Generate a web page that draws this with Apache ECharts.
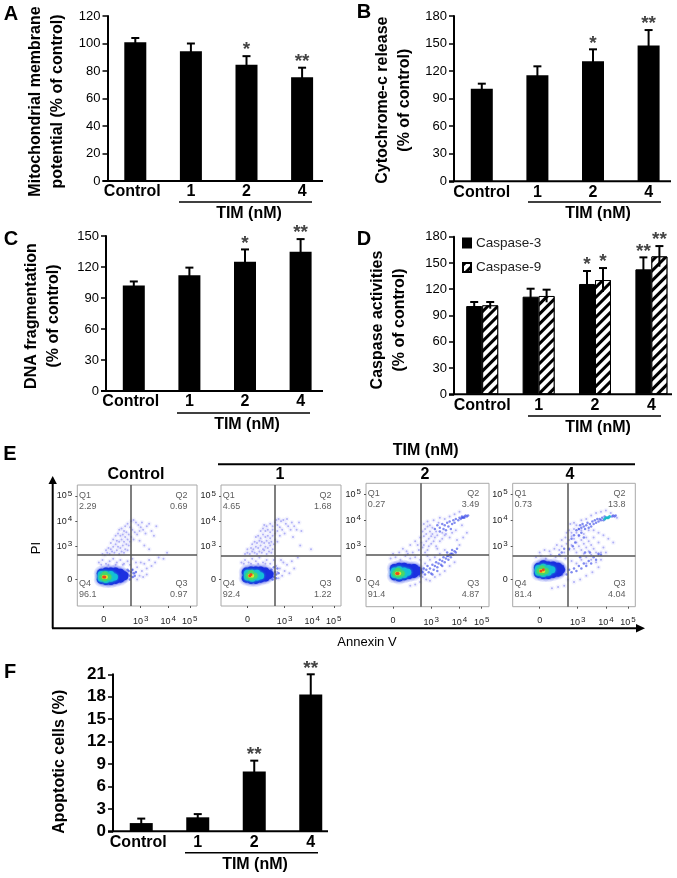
<!DOCTYPE html>
<html>
<head>
<meta charset="utf-8">
<title>TIM apoptosis panels</title>
<script src="https://cdn.jsdelivr.net/npm/echarts@6/dist/echarts.min.js"></script>
<style>
html,body{margin:0;padding:0;background:#fff;}
#main{width:677px;height:878px;}
</style>
</head>
<body>
<div id="main"></div>
<script>
var doseLabels = ['Control', '1', '2', '4'];

// bar panels: mean, error, significance
var aMeans = [101, 94.4, 84.5, 75.4];
var aErrs = [3, 5.6, 6.3, 7];
var aStars = ['', '', '*', '**'];
var bMeans = [100.9, 115.4, 130.6, 148];
var bErrs = [5.4, 9.8, 13.1, 16.7];
var bStars = ['', '', '*', '**'];
var cMeans = [102, 112, 125.2, 134.8];
var cErrs = [4, 7.4, 11.8, 12.2];
var cStars = ['', '', '*', '**'];
var d3Means = [100.8, 111.5, 126, 142.7];
var d3Errs = [4.6, 9.1, 14.8, 13.7];
var d3Stars = ['', '', '*', '**'];
var d9Means = [101.6, 112.3, 130.5, 157.5];
var d9Errs = [3.8, 7.2, 13.7, 11.8];
var d9Stars = ['', '', '*', '**'];
var fMeans = [1.1, 1.87, 8, 18.3];
var fErrs = [0.6, 0.43, 1.45, 2.7];
var fStars = ['', '', '**', '**'];

// flow cytometry panels
var flowTitles = ['Control', '1', '2', '4'];
var quadrantPct = [
    ['2.29', '0.69', '0.97', '96.1'],
    ['4.65', '1.68', '1.22', '92.4'],
    ['0.27', '3.49', '4.87', '91.4'],
    ['0.73', '13.8', '4.04', '81.4']
];
var gateX = [44.9, 45, 44.7, 44.5];
var gateY = [42, 41.5, 42, 41.5];
var flowXTicks = [22, 53, 76, 94];
var flowYTicks = [22, 49, 70, 91];
var flowTickText = ['0', '10{sup|3}', '10{sup|4}', '10{sup|5}'];

var flowSparse0 = [[21,43],[23,42],[25,44],[27,43],[29,45],[24,46],[26,48],[28,47],[31,44],[33,46],[35,43],[37,45],[39,44],[30,49],[32,51],[34,49],[36,48],[38,50],[40,47],[42,46],[28,52],[30,55],[33,54],[35,53],[37,55],[39,53],[41,51],[43,50],[32,58],[34,60],[36,58],[38,59],[40,57],[42,55],[44,53],[35,63],[37,64],[39,62],[41,61],[43,59],[45,57],[47,55],[40,66],[42,68],[44,65],[46,63],[48,61],[50,59],[52,62],[45,70],[47,71],[49,69],[51,67],[53,65],[55,63],[57,60],[54,69],[58,66],[60,68],[62,62],[64,58],[66,66],[52,54],[56,50],[60,47],[18,36],[21,38],[24,35],[27,37],[30,39],[33,36],[36,38],[39,35],[42,37],[46,39],[20,34],[26,34],[32,34],[38,34],[44,34],[46,30],[48,27],[50,32],[52,25],[54,29],[56,35],[58,31],[60,38],[62,33],[65,36],[68,40],[72,39],[50,22],[47,24],[53,36],[49,36],[55,24],[58,26],[75,44]];
var flowSparse1 = [[20,43],[22,44],[24,43],[26,45],[28,44],[30,43],[32,45],[34,44],[36,46],[38,43],[40,45],[42,44],[22,47],[25,48],[27,47],[29,49],[31,48],[33,50],[35,47],[37,49],[39,48],[41,50],[43,47],[26,51],[28,53],[30,52],[32,54],[34,53],[36,52],[38,54],[40,52],[42,53],[44,51],[29,57],[31,58],[33,56],[35,59],[37,57],[39,58],[41,56],[43,58],[45,55],[47,53],[33,62],[35,64],[37,62],[39,63],[41,61],[43,63],[45,60],[47,62],[49,58],[36,67],[38,66],[41,68],[43,66],[45,69],[47,67],[49,65],[51,63],[53,60],[46,71],[48,72],[50,70],[52,71],[54,68],[56,66],[58,63],[55,72],[59,69],[61,66],[63,63],[65,69],[67,62],[60,57],[66,50],[75,47],[17,36],[20,38],[23,36],[26,39],[29,37],[32,40],[35,36],[38,38],[41,35],[44,38],[19,35],[25,35],[31,35],[37,35],[46,33],[47,28],[49,31],[51,25],[53,29],[55,34],[57,27],[59,37],[61,31],[48,23],[52,36],[50,38],[64,40]];
var flowSparse2 = [[20,39],[24,40],[28,38],[32,41],[36,39],[40,40],[44,38],[22,43],[27,44],[33,45],[38,44],[43,46],[46,48],[48,44],[50,46],[42,50],[45,52],[47,50],[49,53],[51,49],[53,51],[44,56],[47,57],[49,59],[51,55],[53,57],[55,53],[57,49],[46,61],[48,63],[50,65],[52,61],[54,59],[56,56],[58,58],[60,53],[62,55],[64,58],[50,69],[52,66],[54,64],[57,61],[59,68],[62,60],[65,59],[68,56],[70,60],[47,67],[30,47],[36,50],[40,53],[34,43],[60,72],[64,71],[68,73],[72,75],[76,77],[55,70],[73,62],[78,66],[74,54],[79,56],[82,60],[76,50],[46,24],[49,22],[52,21],[56,24],[60,26],[64,29],[68,33],[72,36],[48,35],[52,38],[56,40],[60,43],[64,46],[50,41],[58,47],[44,20],[40,18],[36,17]];
var flowSparse3 = [[19,40],[23,41],[27,39],[31,42],[35,40],[39,41],[43,39],[22,44],[26,46],[30,45],[34,47],[38,46],[42,44],[46,46],[36,50],[40,49],[44,51],[48,50],[50,47],[52,44],[40,54],[43,56],[46,54],[48,57],[50,55],[52,52],[54,49],[56,46],[58,43],[60,40],[44,60],[46,62],[48,60],[50,63],[52,60],[54,57],[56,54],[58,51],[60,48],[62,45],[64,42],[47,67],[50,68],[52,66],[54,63],[56,62],[58,59],[60,56],[62,53],[64,50],[66,47],[68,44],[70,42],[56,70],[60,71],[64,74],[68,76],[72,77],[76,78],[80,76],[85,72],[66,62],[70,60],[74,58],[78,55],[82,52],[70,52],[74,48],[62,62],[66,56],[72,44],[76,44],[45,22],[50,20],[55,22],[60,25],[65,28],[70,32],[42,17],[37,16],[32,15],[48,37],[52,35],[56,38],[60,35],[64,38],[68,36],[72,38]];

var flowMid0 = [[42,26],[44,25],[45,28],[46,24],[47,27],[48,25],[43,29],[46,30],[44,22],[49,28],[41,23],[42,30]];
var flowMid1 = [[43,27],[44,24],[45,28],[46,26],[47,31],[44,32],[48,27],[46,23],[42,30],[43,22]];
var flowMid2 = [[56,63],[58,66],[60,64],[62,67],[63,63],[64,66],[66,68],[67,65],[68,69],[70,67],[71,70],[72,68],[73,71],[75,70],[76,72],[77,71],[78,73],[79,72],[80,73],[81,74],[82,73],[83,74],[80,72],[78,72],[60,61],[65,62],[69,63],[46,28],[47,31],[48,26],[49,30],[50,33],[51,28],[52,31],[53,27],[54,34],[55,30],[56,33],[57,36],[58,32],[59,35],[60,38],[61,34],[62,37],[63,40],[64,36],[65,39],[66,41],[67,38],[68,42],[69,40],[70,43],[71,42],[72,45],[73,44],[66,44],[62,33],[58,29],[54,26],[70,46],[74,47],[69,43],[67,41],[44,31],[42,27],[44,25]];
var flowMid3 = [[54,63],[55,66],[56,64],[57,67],[58,65],[59,63],[60,66],[61,68],[62,64],[63,67],[64,65],[65,69],[66,67],[67,70],[68,68],[69,71],[70,69],[71,71],[72,70],[73,72],[74,70],[75,73],[81,73],[82,74],[83,73],[84,74],[48,55],[50,58],[52,62],[54,58],[56,60],[58,56],[46,47],[49,49],[51,52],[44,26],[46,30],[48,28],[50,31],[52,29],[54,33],[56,31],[58,35],[60,33],[62,37],[64,35],[66,40],[68,38],[70,43],[72,42],[40,44],[42,47],[38,42],[55,40],[59,44],[63,44],[42,30],[40,26],[41,33]];

var flowDense0 = [[20,22],[20,27],[24,21],[24,28],[28,21],[28,28],[32,22],[32,28],[36,23],[36,27],[39,25],[24,25],[30,25]];
var flowDense1 = [[21,23],[21,28],[25,22],[25,29],[29,22],[29,29],[33,23],[33,29],[37,24],[37,28],[40,26],[26,26],[32,26]];
var flowDense2 = [[23,25],[23,31],[27,24],[27,32],[31,25],[31,32],[35,26],[35,31],[39,27],[39,31],[42,29],[29,28],[35,29]];
var flowDense3 = [[21,27],[21,32],[25,26],[25,34],[29,26],[29,33],[33,27],[33,33],[37,28],[37,32],[39,30],[27,30],[33,30]];

var flowTip0 = [];
var flowTip1 = [];
var flowTip2 = [];
var flowTip3 = [[75,71],[76,72],[77,72],[78,72],[79,73]];

var flowCyan0 = [[20,23],[20,26],[24,22],[24,26],[28,23],[28,26],[31,24]];
var flowCyan1 = [[22,24],[22,27],[26,23],[26,27],[30,24],[30,27],[33,25]];
var flowCyan2 = [[23,26],[23,29],[27,25],[27,30],[31,26],[31,29],[34,28]];
var flowCyan3 = [[21,28],[21,31],[25,27],[25,32],[29,28],[29,31],[32,30]];

var flowGreen0 = [[21,24],[23,23],[23,26],[26,24]];
var flowGreen1 = [[23,25],[25,24],[25,27],[28,25]];
var flowGreen2 = [[24,27],[26,26],[26,29],[29,27]];
var flowGreen3 = [[22,29],[24,28],[24,31],[27,29]];

var flowYellow0 = [[22,24],[24,24]];
var flowYellow1 = [[24,25],[26,25]];
var flowYellow2 = [[25,27],[27,27]];
var flowYellow3 = [[23,29],[25,29]];

var flowRed0 = [[22,24],[23,24]];
var flowRed1 = [[24,25],[25,26]];
var flowRed2 = [[25,27],[26,27]];
var flowRed3 = [[23,29],[25,30]];

var FONT = '"Liberation Sans", Arial, sans-serif';

var myChart = echarts.init(document.getElementById('main'));

var grids = [], xAxes = [], yAxes = [], series = [], graphics = [];

function addText(text, x, y, size, weight, rotation) {
    graphics.push({
        type: 'text',
        x: x,
        y: y,
        rotation: rotation || 0,
        z: 10,
        style: {
            text: text,
            textAlign: 'center',
            textVerticalAlign: 'middle',
            fill: '#000',
            font: (weight || 'normal') + ' ' + size + 'px ' + FONT
        }
    });
}

function addLine(x1, y1, x2, y2, width) {
    graphics.push({
        type: 'line',
        z: 10,
        shape: {x1: x1, y1: y1, x2: x2, y2: y2},
        style: {stroke: '#000', lineWidth: width}
    });
}

function errorSeries(idx, means, errs, stars, offset) {
    var capHalf = 4;
    return {
        type: 'custom',
        xAxisIndex: idx,
        yAxisIndex: idx,
        silent: true,
        z: 5,
        data: means.map(function (m, i) { return [i, m, errs[i]]; }),
        encode: {x: 0, y: 1},
        renderItem: function (params, api) {
            var c = api.value(0), m = api.value(1), e = api.value(2);
            var top = api.coord([c, m + e]);
            var low = api.coord([c, m - e]);
            var x = top[0] + offset;
            var kids = [
                {type: 'line', shape: {x1: x, y1: low[1], x2: x, y2: top[1]}, style: {stroke: '#000', lineWidth: 2}},
                {type: 'line', shape: {x1: x - capHalf, y1: top[1], x2: x + capHalf, y2: top[1]}, style: {stroke: '#000', lineWidth: 2}}
            ];
            var s = stars[params.dataIndex];
            if (s) {
                kids.push({
                    type: 'text',
                    style: {
                        text: s,
                        x: x,
                        y: top[1] - 6,
                        textAlign: 'center',
                        textVerticalAlign: 'middle',
                        fill: '#444',
                        font: 'bold 19px ' + FONT
                    }
                });
            }
            return {type: 'group', children: kids};
        }
    };
}

// one bar panel: grid, axes, baseline, TIM bracket
function addBarPanel(p) {
    var idx = grids.length;
    var h = p.base - p.top;
    grids.push({left: p.left, top: p.top, width: p.band * 4, height: h, outerBoundsMode: 'none'});
    xAxes.push({
        type: 'category',
        gridIndex: idx,
        data: doseLabels,
        axisLine: {show: false},
        axisTick: {show: false},
        axisLabel: {
            interval: 0,
            margin: 3,
            color: '#000',
            fontFamily: FONT,
            fontSize: 16,
            fontWeight: 'bold',
            // Control sits a little left of its bar in some panels
            rich: {ctl: {fontFamily: FONT, fontSize: 16, fontWeight: 'bold', color: '#000', padding: [0, p.controlPad || 0, 0, 0]}},
            formatter: function (v) { return v === 'Control' ? '{ctl|' + v + '}' : v; }
        }
    });
    yAxes.push({
        type: 'value',
        gridIndex: idx,
        min: 0,
        max: p.max,
        interval: p.step,
        name: p.yName,
        nameLocation: 'middle',
        nameGap: p.nameGap,
        nameRotate: 90,
        nameTextStyle: {color: '#000', fontFamily: FONT, fontSize: 16, fontWeight: 'bold', lineHeight: 22, padding: [0, p.namePad || 0, 0, 0]},
        splitLine: {show: false},
        axisLine: {show: true, lineStyle: {color: '#000', width: 2}},
        axisTick: {show: true, length: 5, lineStyle: {color: '#000', width: 1.5}},
        axisLabel: {margin: 7, color: '#000', fontFamily: FONT, fontSize: p.tickSize || 13, fontWeight: p.tickWeight || 'normal'}
    });
    addLine(p.left - 5, p.base, p.right, p.base, 2);
    addLine(p.bracket[0], p.bracket[2], p.bracket[1], p.bracket[2], 1.5);
    addText('TIM (nM)', (p.bracket[3]), p.bracket[2] + 12, 16, 'bold');
    addText(p.letter, p.letterX, p.letterY, 20, 'bold');
    return idx;
}

function addSimplePanel(p, means, errs, stars) {
    var idx = addBarPanel(p);
    series.push({
        type: 'bar',
        name: 'panel' + p.letter,
        xAxisIndex: idx,
        yAxisIndex: idx,
        barWidth: p.barWidth,
        itemStyle: {color: '#000'},
        data: means
    });
    series.push(errorSeries(idx, means, errs, stars, 0));
}

addSimplePanel({letter: 'A', letterX: 11, letterY: 14, left: 107.5, top: 16, base: 181, band: 55.6, right: 323, max: 120, step: 20, controlPad: 6, namePad: 6,
    yName: 'Mitochondrial membrane\npotential (% of control)', nameGap: 39, bracket: [179, 312, 202, 249], barWidth: 22}, aMeans, aErrs, aStars);
addSimplePanel({letter: 'B', letterX: 364, letterY: 12, left: 454, top: 16, base: 181.3, band: 55.6, right: 671, max: 180, step: 30, namePad: 3,
    yName: 'Cytochrome-c release\n(% of control)', nameGap: 38, bracket: [528, 661, 202, 598], barWidth: 22}, bMeans, bErrs, bStars);
addSimplePanel({letter: 'C', letterX: 11, letterY: 239, left: 106, top: 236, base: 391, band: 55.6, right: 323, max: 150, step: 30, controlPad: 6, namePad: 5,
    yName: 'DNA fragmentation\n(% of control)', nameGap: 41, bracket: [177, 310, 413, 247], barWidth: 22}, cMeans, cErrs, cStars);

// D has two bars per dose, the legend sits inside the plot
var dIdx = addBarPanel({letter: 'D', letterX: 364, letterY: 239, left: 454, top: 236.7, base: 394.3, band: 56.4, right: 672, max: 180, step: 30, namePad: 9,
    yName: 'Caspase activities\n(% of control)', nameGap: 43, bracket: [528, 661, 416, 598]});
series.push({
    type: 'bar',
    name: 'Caspase-3',
    xAxisIndex: dIdx,
    yAxisIndex: dIdx,
    barWidth: 16,
    barGap: 0,
    itemStyle: {color: '#000', borderColor: '#000', borderWidth: 1},
    data: d3Means
});
series.push({
    type: 'bar',
    name: 'Caspase-9',
    xAxisIndex: dIdx,
    yAxisIndex: dIdx,
    barWidth: 16,
    barGap: 0,
    itemStyle: {
        color: '#fff',
        borderColor: '#000',
        borderWidth: 1,
        decal: {symbol: 'rect', color: '#000', backgroundColor: '#fff', dashArrayX: [1, 0], dashArrayY: [3, 4], rotation: -Math.PI / 4}
    },
    data: d9Means
});
series.push(errorSeries(dIdx, d3Means, d3Errs, d3Stars, -8));
series.push(errorSeries(dIdx, d9Means, d9Errs, d9Stars, 8));

addSimplePanel({letter: 'F', letterX: 10, letterY: 672, left: 113, top: 674.3, base: 831.3, band: 56.5, right: 328, max: 21, step: 3, controlPad: 6, namePad: 18,
    yName: 'Apoptotic cells (%)', nameGap: 42, bracket: [185, 318, 852.7, 255], barWidth: 23, tickSize: 17, tickWeight: 'bold'}, fMeans, fErrs, fStars);

// flow cytometry plots
var flowBox = [
    {left: 77.3, top: 485, width: 119.7, height: 121, titleX: 136},
    {left: 221, top: 485, width: 120, height: 121, titleX: 280},
    {left: 366, top: 483.3, width: 123, height: 123.4, titleX: 425},
    {left: 512.7, top: 483.3, width: 122.6, height: 123.4, titleX: 570}
];
var flowLayers = [
    {key: 'Sparse', name: 'Haze', color: '#6a6af0', size: 5, opacity: 0.07},
    {key: 'Sparse', name: 'Sparse', color: '#9a9af4', size: 2, opacity: 0.75},
    {key: 'Mid', name: 'Mid', color: '#2f3fe6', size: 2.5, opacity: 0.6},
    {key: 'Dense', name: 'DenseHalo', color: '#3a4ae8', size: 15, opacity: 0.1},
    {key: 'Dense', name: 'Dense', color: '#1c30e0', size: 9, opacity: 1},
    {key: 'Tip', name: 'Tip', color: '#14b8c8', size: 3, opacity: 0.9},
    {key: 'Cyan', name: 'Cyan', color: '#14c0d8', size: 7, opacity: 1},
    {key: 'Green', name: 'Green', color: '#48d868', size: 6, opacity: 1},
    {key: 'Yellow', name: 'Yellow', color: '#e6e428', size: 4, opacity: 1},
    {key: 'Red', name: 'Red', color: '#ea4a1c', size: 3, opacity: 1}
];
var flowData = {
    Sparse: [flowSparse0, flowSparse1, flowSparse2, flowSparse3],
    Mid: [flowMid0, flowMid1, flowMid2, flowMid3],
    Dense: [flowDense0, flowDense1, flowDense2, flowDense3],
    Tip: [flowTip0, flowTip1, flowTip2, flowTip3],
    Cyan: [flowCyan0, flowCyan1, flowCyan2, flowCyan3],
    Green: [flowGreen0, flowGreen1, flowGreen2, flowGreen3],
    Yellow: [flowYellow0, flowYellow1, flowYellow2, flowYellow3],
    Red: [flowRed0, flowRed1, flowRed2, flowRed3]
};
var quadPos = [
    {x: 1.5, y: 87, align: 'left'},
    {x: 92, y: 87, align: 'right'},
    {x: 92, y: 14, align: 'right'},
    {x: 1.5, y: 14, align: 'left'}
];

flowBox.forEach(function (b, n) {
    var idx = grids.length;
    grids.push({show: true, borderColor: '#a8a8a8', borderWidth: 1, backgroundColor: '#fff', left: b.left, top: b.top, width: b.width, height: b.height, outerBoundsMode: 'none'});
    var flowAxis = function (ticks, margin) {
        return {
            type: 'value',
            gridIndex: idx,
            min: 0,
            max: 100,
            splitLine: {show: false},
            axisLine: {show: false},
            axisTick: {show: true, length: 2, customValues: ticks, lineStyle: {color: '#555', width: 1}},
            axisLabel: {
                customValues: ticks,
                margin: margin,
                color: '#222',
                fontFamily: FONT,
                fontSize: 9,
                rich: {sup: {fontSize: 8, verticalAlign: 'top', padding: [0, 0, 5, 1]}},
                formatter: function (v) { return flowTickText[ticks.indexOf(v)]; }
            }
        };
    };
    xAxes.push(flowAxis(flowXTicks, 9));
    yAxes.push(flowAxis(flowYTicks, 5));

    flowLayers.forEach(function (l) {
        series.push({
            type: 'scatter',
            name: 'flow' + n + l.name,
            xAxisIndex: idx,
            yAxisIndex: idx,
            silent: true,
            symbolSize: l.size,
            itemStyle: {color: l.color, opacity: l.opacity, shadowBlur: (l.size > 5 && l.size < 10) ? 3 : 0, shadowColor: l.color},
            data: flowData[l.key][n]
        });
    });

    // gates and the quadrant read-outs
    series.push({
        type: 'scatter',
        name: 'flow' + n + 'Quadrants',
        xAxisIndex: idx,
        yAxisIndex: idx,
        silent: true,
        symbolSize: 0,
        z: 6,
        data: quadPos.map(function (q, k) {
            return {
                value: [q.x, q.y],
                label: {
                    show: true,
                    position: 'inside',
                    align: q.align,
                    verticalAlign: 'middle',
                    formatter: 'Q' + (k + 1) + '\n' + quadrantPct[n][k],
                    color: '#333',
                    fontFamily: FONT,
                    fontSize: 9,
                    lineHeight: 11
                }
            };
        }),
        markLine: {
            silent: true,
            symbol: 'none',
            label: {show: false},
            lineStyle: {color: '#555', width: 1.5, type: 'solid'},
            data: [{xAxis: gateX[n]}, {yAxis: gateY[n]}]
        }
    });
    addText(flowTitles[n], b.titleX, 475, 16, 'bold');
});

addText('E', 10, 454, 20, 'bold');
addText('TIM (nM)', 425.7, 451, 16, 'bold');
addLine(218, 464.3, 635, 464.3, 2);

// big PI / Annexin V arrows
addLine(52.7, 484, 52.7, 628.3, 2);
addLine(52, 628.3, 638, 628.3, 2);
graphics.push({type: 'polygon', z: 10, shape: {points: [[52.7, 476], [48.5, 484], [56.9, 484]]}, style: {fill: '#000'}});
graphics.push({type: 'polygon', z: 10, shape: {points: [[645, 628.3], [636, 624], [636, 632.6]]}, style: {fill: '#000'}});
addText('PI', 36, 548, 13, 'normal', Math.PI / 2);
addText('Annexin V', 367, 642, 13, 'normal');

var option = {
    animation: false,
    backgroundColor: '#fff',
    grid: grids,
    xAxis: xAxes,
    yAxis: yAxes,
    legend: {
        data: ['Caspase-3', 'Caspase-9'],
        orient: 'vertical',
        left: 462,
        top: 236,
        padding: 0,
        icon: 'rect',
        itemWidth: 8,
        itemHeight: 9,
        itemGap: 10.5,
        textStyle: {color: '#222', fontFamily: FONT, fontSize: 13.5},
        selectedMode: false
    },
    series: series,
    graphic: {elements: graphics}
};

myChart.setOption(option);
</script>
</body>
</html>
